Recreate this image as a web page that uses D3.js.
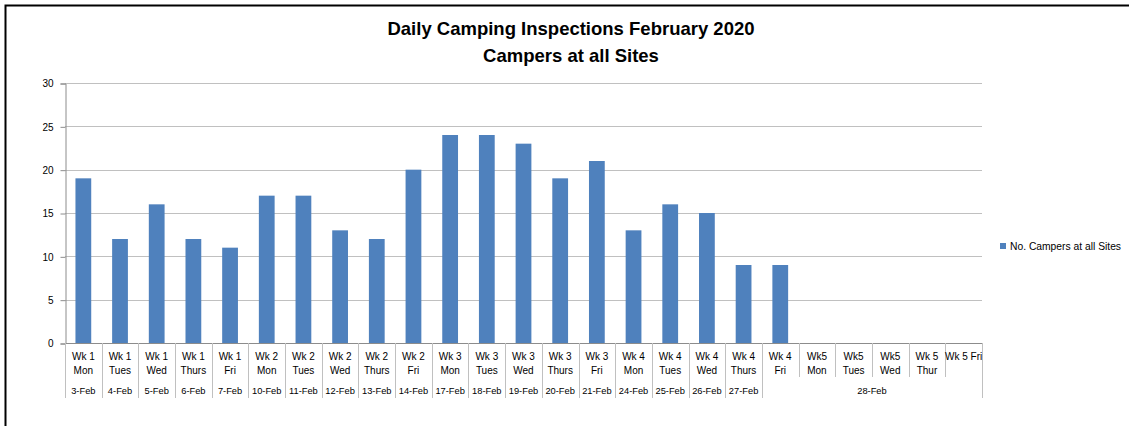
<!DOCTYPE html>
<html>
<head>
<meta charset="utf-8">
<script src="https://cdn.jsdelivr.net/npm/d3@7"></script>
<style>
  body { margin: 0; background: #fff; }
  svg { display: block; font-family: "Liberation Sans", Arial, sans-serif; }
</style>
</head>
<body>
<svg id="chart" width="1129" height="426"></svg>
<script>
// chart data
const titleLines = ['Daily Camping Inspections February 2020', 'Campers at all Sites'];
const seriesName = 'No. Campers at all Sites';

const dayLabels = [
  'Wk 1\nMon', 'Wk 1\nTues', 'Wk 1\nWed', 'Wk 1\nThurs', 'Wk 1\nFri',
  'Wk 2\nMon', 'Wk 2\nTues', 'Wk 2\nWed', 'Wk 2\nThurs', 'Wk 2\nFri',
  'Wk 3\nMon', 'Wk 3\nTues', 'Wk 3\nWed', 'Wk 3\nThurs', 'Wk 3\nFri',
  'Wk 4\nMon', 'Wk 4\nTues', 'Wk 4\nWed', 'Wk 4\nThurs', 'Wk 4\nFri',
  'Wk5\nMon', 'Wk5\nTues', 'Wk5\nWed', 'Wk 5\nThur', 'Wk 5 Fri'
];
const dateLabels = [
  '3-Feb', '4-Feb', '5-Feb', '6-Feb', '7-Feb',
  '10-Feb', '11-Feb', '12-Feb', '13-Feb', '14-Feb',
  '17-Feb', '18-Feb', '19-Feb', '20-Feb', '21-Feb',
  '24-Feb', '25-Feb', '26-Feb', '27-Feb', '28-Feb',
  '28-Feb', '28-Feb', '28-Feb', '28-Feb', '28-Feb'
];
const campers = [19, 12, 16, 12, 11, 17, 17, 13, 12, 20, 24, 24, 23, 19, 21, 13, 16, 15, 9, 9,
                 null, null, null, null, null];
const yTicks = [0, 5, 10, 15, 20, 25, 30];

const svg = d3.select('#chart');
const plot = { left: 65, right: 982, top: 83, bottom: 343 };
const barColor = '#4F81BD';
const gridColor = '#c0c0c0';
const axisColor = '#8c8c8c';

// outer border (left + top only visible)
svg.append('path')
  .attr('d', 'M5.5,426 V5.5 H1129')
  .attr('fill', 'none')
  .attr('stroke', '#000')
  .attr('stroke-width', 2);

const x = d3.scaleBand()
  .domain(d3.range(dayLabels.length))
  .range([plot.left, plot.right])
  .paddingInner(0.57)
  .paddingOuter(0.285);

const bandStep = (plot.right - plot.left) / dayLabels.length;
const y = d3.scaleLinear().domain([0, 30]).range([plot.bottom, plot.top]);

// gridlines
svg.append('g')
  .selectAll('line')
  .data(yTicks.filter(t => t > 0))
  .join('line')
    .attr('x1', plot.left).attr('x2', plot.right)
    .attr('y1', d => Math.round(y(d)) + 0.5).attr('y2', d => Math.round(y(d)) + 0.5)
    .attr('stroke', gridColor);

// y axis
const yAxis = svg.append('g')
  .attr('transform', `translate(${plot.left + 0.5},0.5)`)
  .call(d3.axisLeft(y).tickValues(yTicks).tickSize(5).tickPadding(7));
yAxis.select('.domain').attr('stroke', axisColor);
yAxis.selectAll('.tick line').attr('stroke', axisColor);
yAxis.selectAll('.tick text').attr('fill', '#000').attr('font-size', 10)
  .attr('font-family', '"Liberation Sans", Arial, sans-serif');

// bars
svg.append('g')
  .selectAll('rect')
  .data(campers.map((v, i) => ({ v, i })).filter(d => d.v != null))
  .join('rect')
    .attr('x', d => x(d.i))
    .attr('width', x.bandwidth())
    .attr('y', d => y(d.v))
    .attr('height', d => y(0) - y(d.v))
    .attr('fill', barColor);

// category axis line
svg.append('line')
  .attr('x1', plot.left).attr('x2', plot.right)
  .attr('y1', plot.bottom + 0.5).attr('y2', plot.bottom + 0.5)
  .attr('stroke', axisColor);

// group consecutive dates
const groups = [];
dateLabels.forEach((d, i) => {
  const last = groups[groups.length - 1];
  if (last && last.label === d) last.end = i;
  else groups.push({ label: d, start: i, end: i });
});
const groupEdges = new Set();
groups.forEach(g => { groupEdges.add(g.start); groupEdges.add(g.end + 1); });

const tickG = svg.append('g');
const row1Bottom = 377, row2Bottom = 398;
d3.range(dayLabels.length + 1).forEach(i => {
  const xx = Math.round(plot.left + i * bandStep) + 0.5;
  tickG.append('line')
    .attr('x1', xx).attr('x2', xx)
    .attr('y1', plot.bottom)
    .attr('y2', groupEdges.has(i) ? row2Bottom : row1Bottom)
    .attr('stroke', gridColor);
});

// day labels
const labelG = svg.append('g').attr('font-size', 10).attr('text-anchor', 'middle').attr('fill', '#000');
dayLabels.forEach((lab, i) => {
  const cx = x(i) + x.bandwidth() / 2;
  const lines = lab.split('\n');
  const t = labelG.append('text').attr('x', cx).attr('y', 360);
  lines.forEach((ln, k) => {
    t.append('tspan').attr('x', cx).attr('dy', k === 0 ? 0 : 13.5).text(ln);
  });
});

// date labels
groups.forEach(g => {
  const cx = plot.left + ((g.start + g.end + 1) / 2) * bandStep;
  labelG.append('text').attr('x', cx).attr('y', 394).attr('font-size', 9.3).text(g.label);
});

// title
svg.append('g')
  .attr('text-anchor', 'middle')
  .attr('font-weight', 'bold')
  .attr('font-size', 18.5)
  .selectAll('text')
  .data(titleLines)
  .join('text')
    .attr('x', 571)
    .attr('y', (d, i) => 35 + i * 27)
    .text(d => d);

// legend
const legend = svg.append('g').attr('transform', 'translate(1000,243)');
legend.append('rect').attr('width', 6).attr('height', 6).attr('fill', barColor);
legend.append('text').attr('x', 10).attr('y', 6.5).attr('font-size', 10.3).text(seriesName);
</script>
</body>
</html>
